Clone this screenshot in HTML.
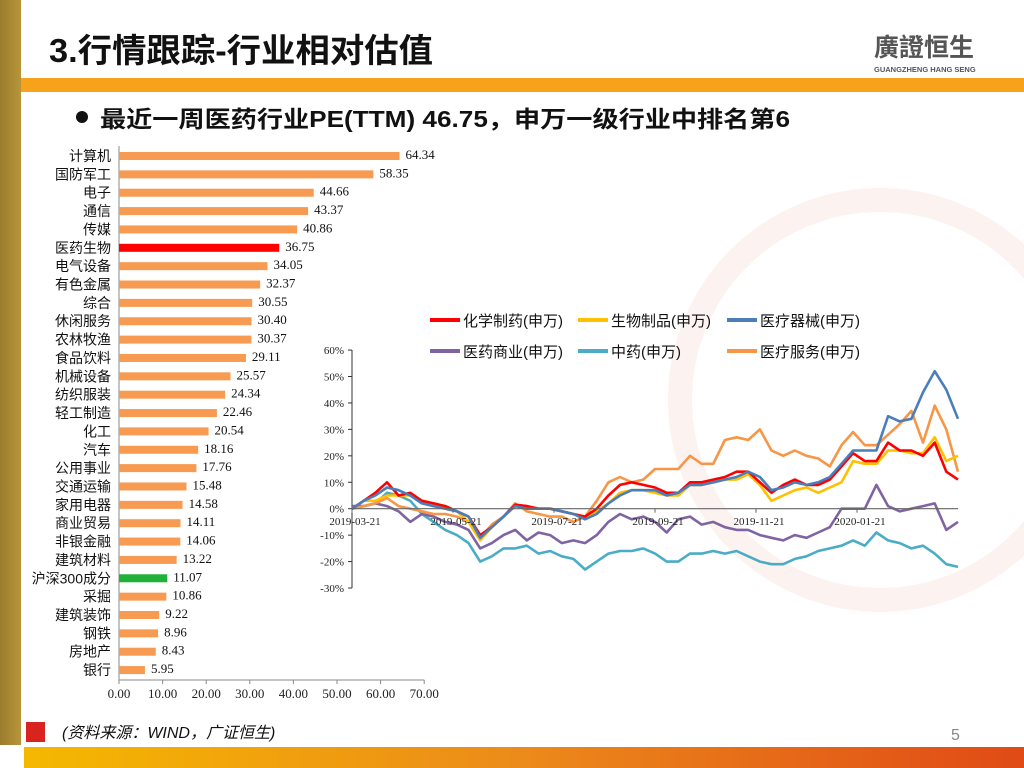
<!DOCTYPE html>
<html><head><meta charset="utf-8"><style>
html,body{margin:0;padding:0;background:#fff;}
svg{display:block;font-family:"Liberation Sans","Noto Sans CJK SC",sans-serif;}
</style></head><body>
<svg id="s" width="1024" height="768" viewBox="0 0 1024 768">
<defs><linearGradient id="bg" x1="0" x2="1"><stop offset="0" stop-color="#f5b800"/><stop offset="0.5" stop-color="#ec8a1a"/><stop offset="1" stop-color="#e04a16"/></linearGradient>
<linearGradient id="gold" x1="0" x2="1"><stop offset="0" stop-color="#9a7d2e"/><stop offset="1" stop-color="#b8953a"/></linearGradient></defs>
<circle cx="880" cy="400" r="200" fill="none" stroke="#fcf3f1" stroke-width="24"/>
<rect x="0" y="0" width="21" height="745" fill="url(#gold)"/>
<rect x="21" y="78" width="1003" height="14" fill="#f7a21b"/>
<rect x="24" y="747" width="1000" height="21" fill="url(#bg)"/>
<text x="49" y="62" font-size="33" font-weight="bold" fill="#111" textLength="384" lengthAdjust="spacingAndGlyphs">3.行情跟踪-行业相对估值</text>
<g><text x="874" y="56" font-size="25" font-weight="bold" fill="#555">廣證恒生</text>
<text x="874" y="72" font-size="7.5" font-weight="bold" fill="#555">GUANGZHENG HANG SENG</text></g>
<circle cx="82" cy="117" r="6" fill="#111"/>
<text x="100" y="127" font-size="23" font-weight="bold" fill="#111" textLength="690" lengthAdjust="spacingAndGlyphs">最近一周医药行业PE(TTM) 46.75，申万一级行业中排名第6</text>
<rect x="26" y="722" width="19" height="20" fill="#d9231e"/>
<text x="62" y="738" font-size="16" font-style="italic" fill="#111">(资料来源：WIND，广证恒生)</text>
<text x="951" y="740" font-size="16" fill="#888">5</text>
<g id="bars"></g><g id="lines"></g>
</svg>
<script>
const cats=["计算机","国防军工","电子","通信","传媒","医药生物","电气设备","有色金属","综合","休闲服务","农林牧渔","食品饮料","机械设备","纺织服装","轻工制造","化工","汽车","公用事业","交通运输","家用电器","商业贸易","非银金融","建筑材料","沪深300成分","采掘","建筑装饰","钢铁","房地产","银行"];
const peVals=[64.34,58.35,44.66,43.37,40.86,36.75,34.05,32.37,30.55,30.40,30.37,29.11,25.57,24.34,22.46,20.54,18.16,17.76,15.48,14.58,14.11,14.06,13.22,11.07,10.86,9.22,8.96,8.43,5.95];
const xTicks=[0,10,20,30,40,50,60,70];

const dateLabels=["2019-03-21","2019-05-21","2019-07-21","2019-09-21","2019-11-21","2020-01-21"];
const yTicks=[60,50,40,30,20,10,0,-10,-20,-30];
const sChem=[0,3,6,10,5,6,3,2,1,-1,-3,-10,-7,-3,1.5,1,0,0,-1,-2,-3,0,5,9,10,9,8,6,6,10,10,11,12,14,14,10,6,9,11,9,9,11,16,21,18,18,25,22,22,20,25,14,11];
const sBio=[0,3,3,5,5,5,3,2,1,-1,-5,-12,-7,-3,1,1,0,0,-1,-2,-3,-1,2,6,7,7,6,5,5,9,9,10,11,11,13,9,3,5,7,8,6,8,10,18,17,17,22,22,21,21,27,18,20];
const sDev=[0,3,5,8,7,5,2,1,0,-1,-3,-11,-7,-3,1,0,0,0,-1,-2,-4,-2,2,5,7,7,7,5,6,9,9,10,11,12,14,12,7,8,10,9,10,12,17,22,22,22,35,33,34,44,52,45,34];
const sSvc=[0,1,2,4,1,0,-1,-2,-2,-3,-5,-11,-6,-3,2,-1,-2,-3,-3,-5,-3,3,10,12,10,11,15,15,15,20,17,17,26,27,26,30,22,20,22,20,19,16,24,29,24,24,28,32,37,25,39,30,14];
const sCom=[1,1,2,1,-1,-5,-2,-3,-5,-6,-8,-15,-13,-10,-8,-12,-9,-10,-13,-12,-13,-10,-5,-2,-4,-3,-5,-9,-4,-3,-6,-5,-7,-8,-8,-10,-11,-12,-10,-11,-9,-7,0,0,0,9,1,-1,0,1,2,-8,-5];
const sTcm=[0,1,2,6,5,3,-2,-5,-8,-10,-13,-20,-18,-15,-15,-14,-17,-16,-18,-19,-23,-20,-17,-16,-16,-15,-17,-20,-20,-17,-17,-16,-17,-16,-18,-20,-21,-21,-19,-18,-16,-15,-14,-12,-14,-9,-12,-13,-15,-14,-17,-21,-22];
const seriesNames=["化学制药(申万)","生物制品(申万)","医疗器械(申万)","医药商业(申万)","中药(申万)","医疗服务(申万)"];

const NS="http://www.w3.org/2000/svg";
function mk(p,t,a,txt){const e=document.createElementNS(NS,t);for(const k in a)e.setAttribute(k,a[k]);if(txt!==undefined)e.textContent=txt;p.appendChild(e);return e;}
const B=document.getElementById('bars');
const bx=v=>119+v*4.36, by=i=>156+i*18.36;
let ax=mk(B,'line',{x1:119,y1:146,x2:119,y2:680,stroke:'#888'});


let ax2=mk(B,'line',{x1:119,y1:680,x2:bx(70),y2:680,stroke:'#888'});


xTicks.forEach(t=>{mk(B,'line',{x1:bx(t),y1:680,x2:bx(t),y2:684,stroke:'#888'});
const l=mk(B,'text',{x:bx(t),y:698,'font-size':13,'text-anchor':'middle','font-family':'Liberation Serif,serif',fill:'#222'},t.toFixed(2));

});
cats.forEach((c,i)=>{
 const col=c==="医药生物"?"#ff0000":(c==="沪深300成分"?"#1fb13a":"#f79a52");
 const r=mk(B,'rect',{x:119,y:by(i)-4,width:bx(peVals[i])-119,height:8,fill:col});
 
 
 const cl=mk(B,'text',{x:111,y:by(i)+5,'font-size':14,'text-anchor':'end',fill:'#111'},c);
 
 
 const vl=mk(B,'text',{x:bx(peVals[i])+6,y:by(i)+3,'font-size':13,'font-family':'Liberation Serif,serif',fill:'#111'},peVals[i].toFixed(2));
 
 
});
const L=document.getElementById('lines');
const lx=w=>352+w*(958-352)/52, ly=v=>508.7-v*2.644;
let ya=mk(L,'line',{x1:352,y1:ly(60),x2:352,y2:ly(-30),stroke:'#333'});


yTicks.forEach(t=>{mk(L,'line',{x1:348,y1:ly(t),x2:352,y2:ly(t),stroke:'#333'});
const l=mk(L,'text',{x:344,y:ly(t)+4,'font-size':11,'text-anchor':'end','font-family':'Liberation Serif,serif',fill:'#222'},t+'%');

});
const series=[sChem,sBio,sDev,sCom,sTcm,sSvc];
const colors=["#ff0000","#ffc000","#4a7ebb","#8064a2","#4bacc6","#f79646"];
const order=[4,3,5,1,0,2];
order.forEach(k=>{const d=series[k].map((v,w)=>(w?'L':'M')+lx(w).toFixed(1)+','+ly(v).toFixed(1)).join('');
 const p=mk(L,'path',{d:d,fill:'none',stroke:colors[k],'stroke-width':2.6,'stroke-linejoin':'round'});
 
 });
let xa=mk(L,'line',{x1:352,y1:ly(0),x2:958,y2:ly(0),stroke:'#666','stroke-width':1.2});


dateLabels.forEach((d,i)=>{const x=352+i*101;mk(L,'line',{x1:x,y1:ly(0),x2:x,y2:ly(0)+4,stroke:'#666'});
const l=mk(L,'text',{x:x+3,y:525,'font-size':11,'text-anchor':'middle','font-family':'Liberation Serif,serif',fill:'#222'},d);

});
const legPos=[[430,320],[578,320],[727,320],[430,351],[578,351],[727,351]];
seriesNames.forEach((n,i)=>{const g=mk(L,'g',{});
 
 
 mk(g,'line',{x1:legPos[i][0],y1:legPos[i][1],x2:legPos[i][0]+30,y2:legPos[i][1],stroke:colors[i],'stroke-width':4});
 mk(g,'text',{x:legPos[i][0]+33,y:legPos[i][1]+6,'font-size':15,fill:'#111'},n);});
</script>
</body></html>
